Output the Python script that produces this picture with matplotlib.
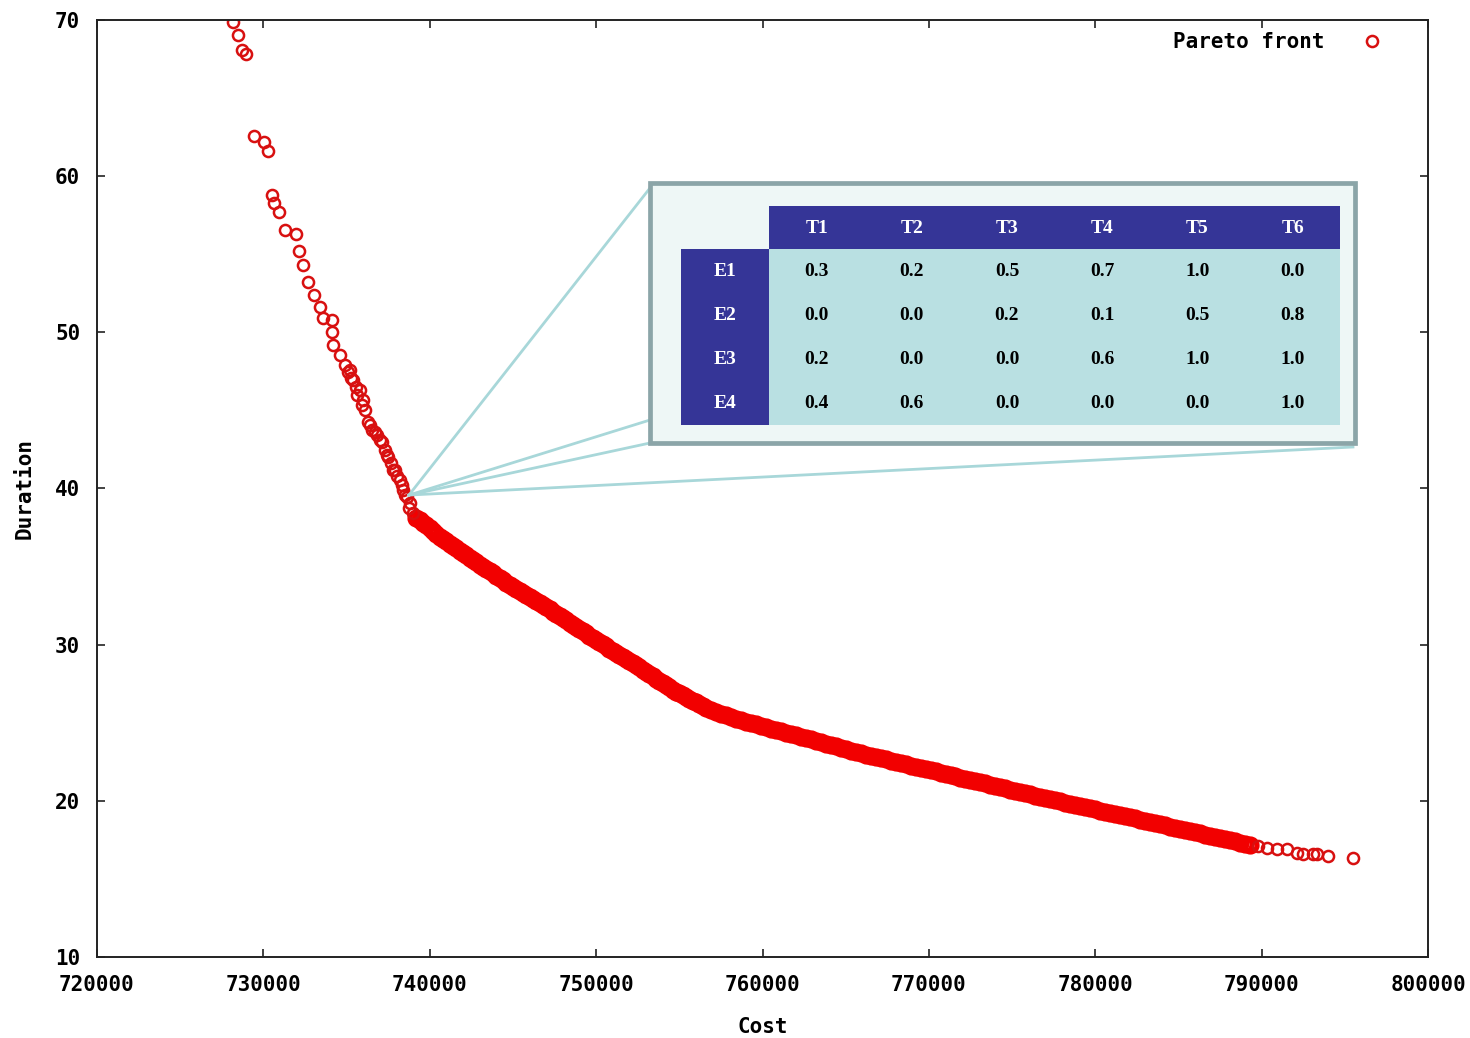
import matplotlib
matplotlib.use('Agg')
import matplotlib.pyplot as plt
from matplotlib.patches import Rectangle
from matplotlib.lines import Line2D

# --- sparse upper part of the front ---
cost_upper = [728174, 728474, 728715, 728955, 729436, 730037, 730277, 730518,
              730638, 730938, 731299, 731960, 732140, 732381, 732681, 733042,
              733402, 733583, 734124, 734124, 734184, 734604, 734905, 735085,
              735205, 735266, 735386, 735566, 735627, 735806, 735927, 735987,
              736107, 736287, 736408, 736527, 736709, 736828, 737009, 737128,
              737309, 737429, 737489, 737669, 737790, 737910, 738030, 738210,
              738331, 738391, 738511, 738631, 738751, 738811, 738992]
dur_upper = [69.87, 69.04, 68.08, 67.82, 62.57, 62.19, 61.61, 58.79,
             58.28, 57.71, 56.55, 56.30, 55.21, 54.31, 53.22, 52.39,
             51.62, 50.92, 50.79, 50.02, 49.19, 48.55, 47.91, 47.46,
             47.59, 47.08, 46.95, 46.50, 45.99, 46.31, 45.35, 45.67,
             45.03, 44.26, 44.07, 43.75, 43.62, 43.43, 43.11, 42.98,
             42.47, 42.15, 42.02, 41.64, 41.19, 41.19, 40.80, 40.55,
             40.22, 39.91, 39.58, 39.46, 38.75, 39.07, 38.43]

# --- steep dense part ---
cost_steep = [739200, 739400, 739600, 739800, 740000, 740200, 740400, 740600,
              740800, 741000, 741200, 741400, 741600, 741800, 742000, 742200,
              742400, 742600, 742800, 743000, 743200, 743400, 743600, 743800,
              744000, 744200, 744400, 744600, 744800, 745000, 745200, 745400,
              745600, 745800, 746000, 746200, 746400, 746600, 746800, 747000,
              747200, 747400, 747600, 747800, 748000, 748200, 748400, 748600,
              748800, 749000, 749200, 749400, 749600, 749800, 750000, 750200,
              750400, 750600, 750800, 751000, 751200, 751400, 751600, 751800,
              752000, 752200, 752400, 752600, 752800, 753000, 753200, 753400,
              753600, 753800, 754000, 754200, 754400, 754600, 754800, 755000,
              755200, 755400, 755600, 755800, 756000, 756200, 756400, 756600]
dur_steep = [38.14, 37.98, 37.82, 37.66, 37.50, 37.30, 37.10, 36.90,
             36.75, 36.61, 36.46, 36.31, 36.16, 36.01, 35.86, 35.72,
             35.57, 35.42, 35.28, 35.13, 34.99, 34.84, 34.70, 34.56,
             34.41, 34.27, 34.13, 33.98, 33.85, 33.72, 33.59, 33.46,
             33.33, 33.20, 33.07, 32.94, 32.81, 32.69, 32.55, 32.40,
             32.26, 32.12, 31.98, 31.84, 31.69, 31.55, 31.41, 31.27,
             31.13, 30.99, 30.85, 30.72, 30.58, 30.44, 30.30, 30.16,
             30.03, 29.89, 29.75, 29.62, 29.48, 29.35, 29.21, 29.08,
             28.94, 28.81, 28.67, 28.54, 28.39, 28.25, 28.11, 27.97,
             27.82, 27.68, 27.54, 27.40, 27.26, 27.11, 27.00, 26.88,
             26.76, 26.65, 26.53, 26.41, 26.30, 26.18, 26.07, 25.95]

# --- flatter dense part ---
cost_flat = [756900, 757200, 757500, 757800, 758100, 758400, 758700, 759000,
             759300, 759600, 759900, 760200, 760500, 760800, 761100, 761400,
             761700, 762000, 762300, 762600, 762900, 763200, 763500, 763800,
             764100, 764400, 764700, 765000, 765300, 765600, 765900, 766200,
             766500, 766800, 767100, 767400, 767700, 768000, 768300, 768600,
             768900, 769200, 769500, 769800, 770100, 770400, 770700, 771000,
             771300, 771600, 771900, 772200, 772500, 772800, 773100, 773400,
             773700, 774000, 774300, 774600, 774900, 775200, 775500, 775800,
             776100, 776400, 776700, 777000, 777300, 777600, 777900, 778200,
             778500, 778800, 779100, 779400, 779700, 780000, 780300, 780600,
             780900, 781200, 781500, 781800, 782100, 782400, 782700, 783000,
             783300, 783600, 783900, 784200, 784500, 784800, 785100, 785400,
             785700, 786000, 786300, 786600, 786900, 787200, 787500, 787800,
             788100, 788400, 788700, 789000, 789300]
dur_flat = [25.82, 25.70, 25.58, 25.47, 25.35, 25.25, 25.16, 25.07,
            24.99, 24.90, 24.81, 24.72, 24.63, 24.55, 24.46, 24.37,
            24.28, 24.19, 24.10, 24.02, 23.93, 23.84, 23.75, 23.66,
            23.58, 23.49, 23.40, 23.31, 23.22, 23.13, 23.05, 22.96,
            22.88, 22.81, 22.73, 22.65, 22.57, 22.50, 22.42, 22.34,
            22.26, 22.19, 22.11, 22.03, 21.96, 21.88, 21.80, 21.72,
            21.65, 21.57, 21.49, 21.42, 21.34, 21.26, 21.18, 21.11,
            21.03, 20.95, 20.88, 20.80, 20.72, 20.64, 20.57, 20.49,
            20.41, 20.34, 20.26, 20.19, 20.11, 20.04, 19.97, 19.89,
            19.82, 19.75, 19.67, 19.60, 19.53, 19.45, 19.38, 19.31,
            19.23, 19.16, 19.09, 19.01, 18.94, 18.87, 18.79, 18.72,
            18.65, 18.57, 18.50, 18.43, 18.35, 18.28, 18.21, 18.13,
            18.06, 17.99, 17.91, 17.84, 17.77, 17.69, 17.62, 17.55,
            17.47, 17.40, 17.33, 17.25, 17.18]

# --- sparse tail ---
cost_tail = [789800, 790300, 790924, 791525, 792126, 792487, 793088, 793328,
             793989, 795492]
dur_tail = [17.08, 17.00, 16.92, 16.92, 16.66, 16.60, 16.60, 16.60,
            16.47, 16.34]

# highlighted solution and its weights
highlight_cost, highlight_dur = 738751, 39.58
task_labels = ['T1', 'T2', 'T3', 'T4', 'T5', 'T6']
emp_labels = ['E1', 'E2', 'E3', 'E4']
weights = [['0.3', '0.2', '0.5', '0.7', '1.0', '0.0'],
           ['0.0', '0.0', '0.2', '0.1', '0.5', '0.8'],
           ['0.2', '0.0', '0.0', '0.6', '1.0', '1.0'],
           ['0.4', '0.6', '0.0', '0.0', '0.0', '1.0']]

W, H = 1470, 1038
fig = plt.figure(figsize=(W / 100, H / 100), dpi=100)
ax = fig.add_axes([97 / W, 1 - 957 / H, (1428 - 97) / W, (957 - 20) / H])

mono = dict(family='DejaVu Sans Mono', weight='bold', size=15)
ring = dict(linestyle='none', marker='o', markerfacecolor='none')

# dense stretch: rings overlap into a solid band
ax.plot(cost_steep + cost_flat, dur_steep + dur_flat, markeredgecolor='#F20000',
        markersize=9.5, markeredgewidth=3.6, **ring)
# sparse stretches: separate rings
ax.plot(cost_upper + cost_tail, dur_upper + dur_tail, markeredgecolor='#D81010',
        markersize=8, markeredgewidth=1.8, label='Pareto front', **ring)

ax.set_xlim(720000, 800000)
ax.set_ylim(10, 70)
ax.set_xticks(range(720000, 800001, 10000))
ax.set_yticks(range(10, 71, 10))
ax.tick_params(direction='in', length=6, width=1.2, top=True, right=True,
               colors='#222222', labelcolor='black')
ax.tick_params(axis='x', pad=13)
ax.tick_params(axis='y', pad=12)
for lab in ax.get_xticklabels() + ax.get_yticklabels():
    lab.set_fontfamily('DejaVu Sans Mono')
    lab.set_fontweight('bold')
    lab.set_fontsize(15)
for sp in ax.spines.values():
    sp.set_linewidth(1.4)
    sp.set_color('#222222')

ax.set_xlabel('Cost', fontdict=mono, labelpad=16)
ax.set_ylabel('Duration', fontdict=mono, labelpad=15)

ax.legend(loc='upper right', bbox_to_anchor=(0.972, 0.996), borderaxespad=0,
          frameon=False, markerfirst=False,
          prop=dict(family='DejaVu Sans Mono', weight='bold', size=15),
          handlelength=1.0, handletextpad=1.8)

# overlay in figure pixel coordinates for the inset table
ov = fig.add_axes([0, 0, 1, 1])
ov.set_xlim(0, W)
ov.set_ylim(H, 0)
ov.axis('off')

fig.canvas.draw()
apex = ov.transData.inverted().transform(
    ax.transData.transform((highlight_cost, highlight_dur)))

line_col = '#A8D7D9'
for (tx, ty) in [(650, 188), (650, 420), (650, 443), (1353, 447)]:
    ov.add_line(Line2D([apex[0], tx], [apex[1], ty], color=line_col, lw=2,
                       zorder=1))

ov.add_patch(Rectangle((650, 183), 705, 260, facecolor='#EEF7F6',
                       edgecolor='#8BA5A8', lw=3.4, zorder=2))

dark = '#353597'
cell = '#B9E0E2'
x0, y0 = 769, 206
col_w, head_h, row_h = 95.2, 43, 44
ov.add_patch(Rectangle((x0, y0), col_w * 6, head_h, facecolor=dark,
                       edgecolor='none', zorder=3))
ov.add_patch(Rectangle((681, y0 + head_h), x0 - 681, row_h * 4,
                       facecolor=dark, edgecolor='none', zorder=3))
ov.add_patch(Rectangle((x0, y0 + head_h), col_w * 6, row_h * 4,
                       facecolor=cell, edgecolor='none', zorder=3))

serif = dict(family='Liberation Serif', weight='bold', size=14,
             ha='center', va='center', zorder=4)
for i, t in enumerate(task_labels):
    ov.text(x0 + (i + 0.5) * col_w, y0 + head_h / 2 + 1, t, color='white',
            **serif)
for j, e in enumerate(emp_labels):
    yc = y0 + head_h + (j + 0.5) * row_h
    ov.text((681 + x0) / 2, yc, e, color='white', **serif)
    for i, v in enumerate(weights[j]):
        ov.text(x0 + (i + 0.5) * col_w, yc, v, color='black', **serif)

fig.savefig('out.png', dpi=100)
